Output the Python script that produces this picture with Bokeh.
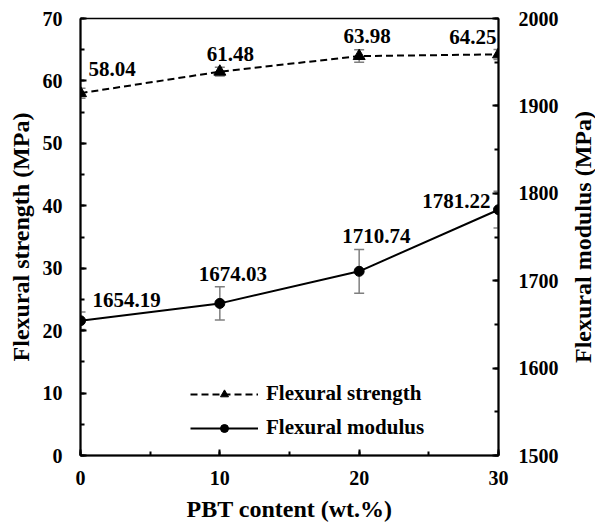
import math
from bokeh.plotting import figure
from bokeh.layouts import row
from bokeh.models import (Range1d, LinearAxis, SingleIntervalTicker, FixedTicker, ColumnDataSource,
                          Whisker, TeeHead, Legend, LegendItem)
from bokeh.core.properties import value
from bokeh.embed import file_html
from bokeh.resources import INLINE

# ---- data ----
pbt_content = [0, 10, 20, 30]
strength = [58.04, 61.48, 63.98, 64.25]
strength_err = [0.8, 0.7, 1.0, 0.8]
modulus = [1654.19, 1674.03, 1710.74, 1781.22]
modulus_err = [10, 19, 25, 21]
strength_labels = ["58.04", "61.48", "63.98", "64.25"]
modulus_labels = ["1654.19", "1674.03", "1710.74", "1781.22"]
x_title = "PBT content (wt.%)"
left_title = "Flexural strength (MPa)"
right_title = "Flexural modulus (MPa)"

# ---- label placement (screen offsets) ----
s_dx = [8, -13, 8, -2]
s_dy = [-24, -18, -20, -17]
s_align = ["left", "left", "center", "right"]
m_dx = [12, -21, -17, -8]
m_dy = [-21, -29, -35, -9]
m_align = ["left", "left", "left", "right"]

FONT = "Liberation Serif"

p = figure(width=566, height=529, output_backend="svg", toolbar_location=None,
           x_range=Range1d(0, 30), y_range=Range1d(0, 70),
           min_border_left=80, min_border_right=68, min_border_top=18, min_border_bottom=74)
p.extra_y_ranges = {"mod": Range1d(1500, 2000)}
p.xgrid.visible = False
p.ygrid.visible = False
p.outline_line_color = "black"
p.outline_line_width = 1.5
p.background_fill_color = "white"
p.border_fill_color = "white"

src_s = ColumnDataSource(dict(x=pbt_content, y=strength,
                              up=[v + e for v, e in zip(strength, strength_err)],
                              lo=[v - e for v, e in zip(strength, strength_err)],
                              t=strength_labels, dx=s_dx, dy=s_dy, al=s_align))
src_m = ColumnDataSource(dict(x=pbt_content, y=modulus,
                              up=[v + e for v, e in zip(modulus, modulus_err)],
                              lo=[v - e for v, e in zip(modulus, modulus_err)],
                              t=modulus_labels, dx=m_dx, dy=m_dy, al=m_align))

# error bars
def head():
    return TeeHead(size=10, line_color="#7f7f7f", line_width=1.5)

ws = Whisker(source=src_s, base="x", upper="up", lower="lo", line_color="#7f7f7f", line_width=1.5,
             upper_head=head(), lower_head=head())
wm = Whisker(source=src_m, base="x", upper="up", lower="lo", line_color="#7f7f7f", line_width=1.5,
             upper_head=head(), lower_head=head(), y_range_name="mod")
p.add_layout(ws)
p.add_layout(wm)

ls = p.line("x", "y", source=src_s, line_color="black", line_width=2, line_dash="7 4")
ms = p.scatter("x", "y", source=src_s, marker="triangle", size=12, color="black")
lm = p.line("x", "y", source=src_m, line_color="black", line_width=2, y_range_name="mod")
mm = p.scatter("x", "y", source=src_m, marker="circle", size=10, color="black", y_range_name="mod")

p.text("x", "y", text="t", source=src_s, x_offset="dx", y_offset="dy", text_align="al",
       text_baseline="middle", text_font=value(FONT), text_font_style="bold",
       text_font_size="21px", text_color="black")
p.text("x", "y", text="t", source=src_m, x_offset="dx", y_offset="dy", text_align="al",
       text_baseline="middle", text_font=value(FONT), text_font_style="bold",
       text_font_size="21px", text_color="black", y_range_name="mod")

# axes
def style_axis(ax, standoff, title_standoff):
    ax.axis_line_width = 2
    ax.axis_line_color = "black"
    ax.major_tick_in = 6
    ax.major_tick_out = 0
    ax.minor_tick_in = 4
    ax.minor_tick_out = 0
    ax.major_tick_line_width = 2
    ax.minor_tick_line_width = 2
    ax.major_label_text_font = FONT
    ax.major_label_text_font_style = "bold"
    ax.major_label_text_font_size = "20px"
    ax.major_label_text_color = "black"
    ax.major_label_standoff = standoff
    ax.axis_label_text_font = FONT
    ax.axis_label_text_font_style = "bold"
    ax.axis_label_text_font_size = "24px"
    ax.axis_label_text_color = "black"
    ax.axis_label_standoff = title_standoff

p.xaxis.ticker = SingleIntervalTicker(interval=10, num_minor_ticks=2)
p.xaxis.axis_label = x_title
style_axis(p.xaxis[0], 15, 8)

p.yaxis.ticker = SingleIntervalTicker(interval=10, num_minor_ticks=2)
p.yaxis.axis_label = left_title
style_axis(p.yaxis[0], 18, 6)

ry = LinearAxis(y_range_name="mod", ticker=SingleIntervalTicker(interval=100, num_minor_ticks=2))
style_axis(ry, 20, 0)
p.add_layout(ry, "right")

legend = Legend(items=[LegendItem(label="Flexural strength", renderers=[ls, ms]),
                       LegendItem(label="Flexural modulus", renderers=[lm, mm])],
                location=(110, 15), orientation="vertical",
                glyph_width=68, glyph_height=20, label_height=24, spacing=9,
                label_standoff=8, padding=0, margin=0,
                background_fill_alpha=0, border_line_alpha=0,
                label_text_font=FONT, label_text_font_style="bold",
                label_text_font_size="21px", label_text_color="black")
p.add_layout(legend)

# narrow companion panel that carries the right-hand axis title (reads bottom-to-top)
p2 = figure(width=29, height=529, output_backend="svg", toolbar_location=None,
            x_range=Range1d(0, 1), y_range=Range1d(0, 1),
            min_border_left=27, min_border_right=0, min_border_top=18, min_border_bottom=74)
p2.xaxis.visible = False
p2.xgrid.visible = False
p2.ygrid.visible = False
p2.outline_line_color = None
p2.background_fill_color = "white"
p2.border_fill_color = "white"
p2.yaxis.ticker = FixedTicker(ticks=[])
p2.yaxis.axis_line_color = None
p2.yaxis.major_tick_line_color = None
p2.yaxis.minor_tick_line_color = None
p2.yaxis.major_label_text_font_size = "0px"
p2.yaxis.axis_label = right_title
p2.yaxis.axis_label_standoff = 0
p2.yaxis.axis_label_text_font = FONT
p2.yaxis.axis_label_text_font_style = "bold"
p2.yaxis.axis_label_text_font_size = "24px"
p2.yaxis.axis_label_text_color = "black"

layout = row(p, p2)
open("out.html", "w").write(file_html(layout, INLINE))
